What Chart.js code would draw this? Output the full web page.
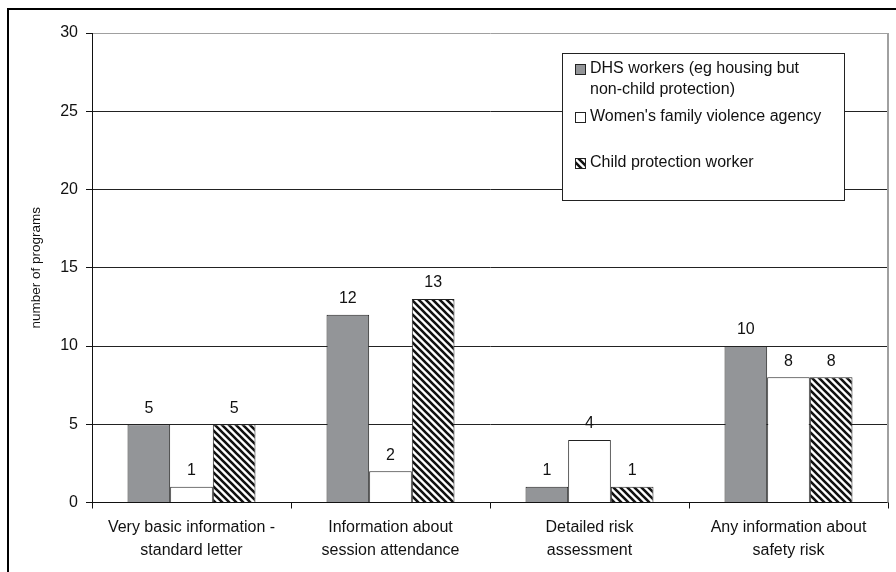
<!DOCTYPE html>
<html>
<head>
<meta charset="utf-8">
<script src="https://cdn.jsdelivr.net/npm/chart.js@4.4.1/dist/chart.umd.min.js"></script>
<style>
  html, body { margin: 0; padding: 0; background: #fff; }
  #wrap { width: 896px; height: 572px; position: relative; }
</style>
</head>
<body>
<div id="wrap"><canvas id="c" width="896" height="572"></canvas></div>
<script>
// Information shared with each agency type, by number of programs
const categories = [
  ['Very basic information -', 'standard letter'],
  ['Information about', 'session attendance'],
  ['Detailed risk', 'assessment'],
  ['Any information about', 'safety risk']
];
const seriesNames = [
  ['DHS workers (eg housing but', 'non-child protection)'],
  ["Women's family violence agency"],
  ['Child protection worker']
];
const dhsWorkers = [5, 12, 1, 10];
const womensAgency = [1, 2, 4, 8];
const childProtection = [5, 13, 1, 8];
const yTicks = [0, 5, 10, 15, 20, 25, 30];

const FONT = '"Liberation Sans", Arial, sans-serif';

// Diagonal hatch fill for the child protection series
function makeHatch() {
  const s = 7;
  const c = document.createElement('canvas');
  c.width = s; c.height = s;
  const g = c.getContext('2d');
  g.fillStyle = '#fff';
  g.fillRect(0, 0, s, s);
  g.strokeStyle = '#111';
  g.lineWidth = 2.6;
  g.beginPath();
  for (let k = -1; k <= 1; k++) {
    g.moveTo(k * s - 1, -1);
    g.lineTo(k * s + s + 1, s + 1);
  }
  g.stroke();
  return g.createPattern(c, 'repeat');
}
const ctx = document.getElementById('c').getContext('2d');
const hatch = makeHatch();
const fills = ['#939598', '#ffffff', hatch];

// Frame round the figure plus grey plot border on the right
const framePlugin = {
  id: 'frame',
  beforeDraw(chart) {
    const g = chart.ctx;
    g.save();
    g.fillStyle = '#fff';
    g.fillRect(0, 0, chart.width, chart.height);
    g.strokeStyle = '#000';
    g.lineWidth = 2;
    g.beginPath();
    g.moveTo(8, chart.height);
    g.lineTo(8, 9);
    g.lineTo(chart.width, 9);
    g.stroke();
    g.restore();
  },
  afterDatasetsDraw(chart) {
    const a = chart.chartArea;
    const g = chart.ctx;
    g.save();
    g.strokeStyle = '#a0a0a0';
    g.lineWidth = 2;
    g.beginPath();
    g.moveTo(a.right, a.top);
    g.lineTo(a.right, a.bottom);
    g.stroke();
    g.restore();
  }
};

// Value printed above every bar
const valueLabels = {
  id: 'valueLabels',
  afterDatasetsDraw(chart) {
    const g = chart.ctx;
    g.save();
    g.font = '16px ' + FONT;
    g.fillStyle = '#111';
    g.textAlign = 'center';
    g.textBaseline = 'middle';
    chart.data.datasets.forEach((ds, i) => {
      chart.getDatasetMeta(i).data.forEach((bar, j) => {
        g.fillText(String(ds.data[j]), bar.x, bar.y - 16);
      });
    });
    g.restore();
  }
};

// Boxed legend inside the plot area
const boxLegend = {
  id: 'boxLegend',
  afterDraw(chart) {
    const g = chart.ctx;
    const x0 = 562, y0 = 53, w = 282, h = 147;
    const rowY = [69, 117, 163];
    g.save();
    g.fillStyle = '#fff';
    g.fillRect(x0, y0, w, h);
    g.strokeStyle = '#222';
    g.lineWidth = 1;
    g.strokeRect(x0 + 0.5, y0 + 0.5, w, h);
    g.font = '16px ' + FONT;
    g.textBaseline = 'middle';
    g.textAlign = 'left';
    chart.data.datasets.forEach((ds, i) => {
      const y = rowY[i];
      g.fillStyle = ds.backgroundColor;
      g.fillRect(575, y - 5, 10, 10);
      g.strokeStyle = '#222';
      g.strokeRect(575.5, y - 4.5, 10, 10);
      g.fillStyle = '#111';
      seriesNames[i].forEach((line, k) => g.fillText(line, 590, y + k * 21));
    });
    g.restore();
  }
};

new Chart(ctx, {
  type: 'bar',
  data: {
    labels: categories,
    datasets: [
      { label: seriesNames[0].join(' '), data: dhsWorkers, backgroundColor: fills[0] },
      { label: seriesNames[1].join(' '), data: womensAgency, backgroundColor: fills[1] },
      { label: seriesNames[2].join(' '), data: childProtection, backgroundColor: fills[2] }
    ].map(d => Object.assign(d, { borderColor: '#222', borderWidth: 1, borderSkipped: 'start' }))
  },
  plugins: [framePlugin, valueLabels, boxLegend],
  options: {
    responsive: false,
    animation: false,
    devicePixelRatio: 1,
    categoryPercentage: 0.643,
    barPercentage: 1,
    layout: { padding: { left: 10, top: 33, right: 8, bottom: 0 } },
    plugins: { legend: { display: false }, tooltip: { enabled: false } },
    scales: {
      x: {
        grid: { display: true, drawOnChartArea: false, drawTicks: true, tickLength: 6, color: '#111', offset: true },
        border: { display: true, color: '#111', width: 1 },
        ticks: {
          font: { family: FONT, size: 16, lineHeight: 1.44 },
          color: '#111', padding: 8, maxRotation: 0, autoSkip: false
        },
        afterFit(scale) { scale.height = 69.5; }
      },
      y: {
        min: 0, max: 30,
        afterBuildTicks(scale) { scale.ticks = yTicks.map(v => ({ value: v })); },
        grid: {
          color: c => (c.tick && c.tick.value === 30 ? '#a0a0a0' : '#222'),
          tickColor: '#111', tickLength: 6, lineWidth: 1
        },
        border: { display: true, color: '#111', width: 1 },
        ticks: { font: { family: FONT, size: 16 }, color: '#111', padding: 8 },
        title: {
          display: true, text: 'number of programs',
          font: { family: FONT, size: 13.5 }, color: '#111', padding: { top: 18, bottom: 0 }
        },
        afterFit(scale) { scale.width = 82; }
      }
    }
  }
});
</script>
</body>
</html>
